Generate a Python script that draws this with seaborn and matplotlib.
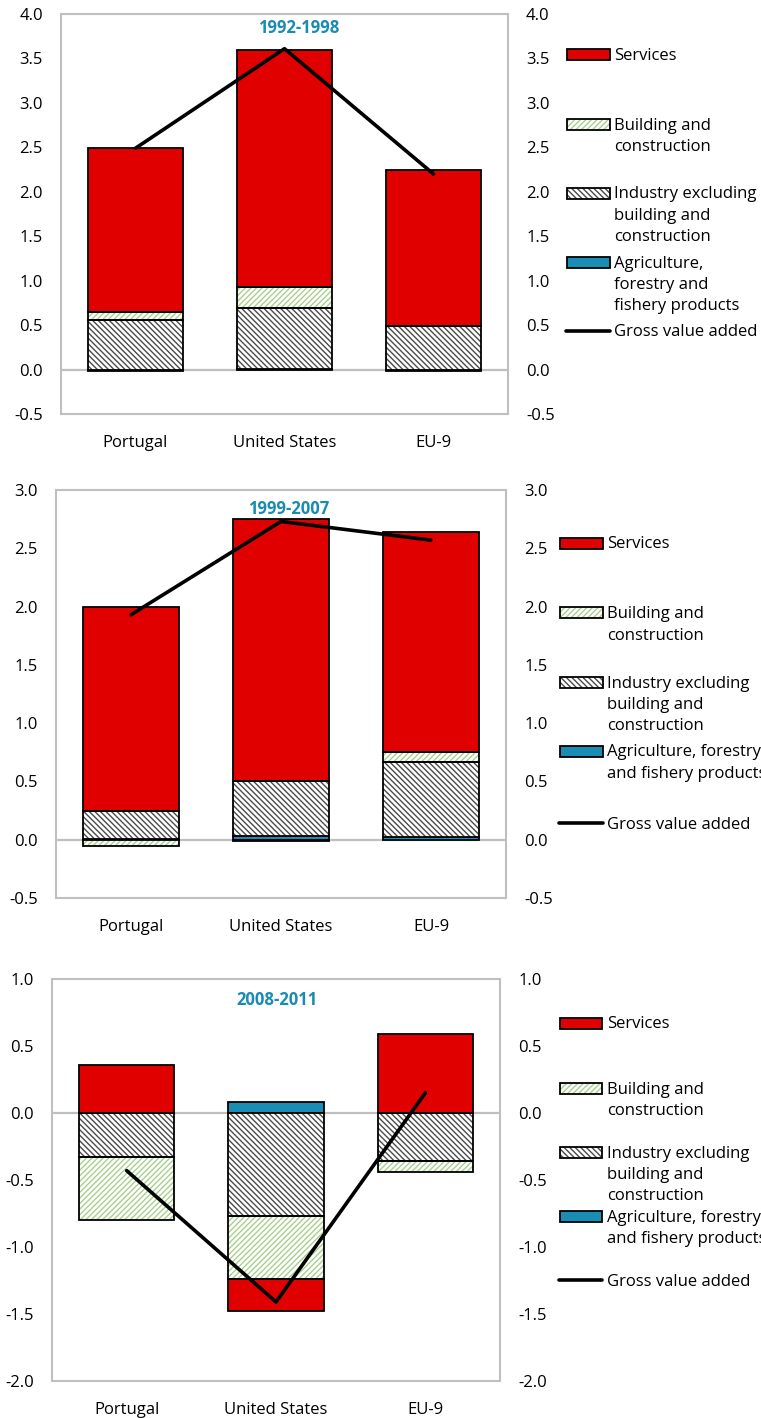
import matplotlib
matplotlib.use("Agg")
import numpy as np
import matplotlib.pyplot as plt
import seaborn as sns
from matplotlib.patches import Rectangle
from matplotlib.lines import Line2D

# ---- data -------------------------------------------------------------
countries = ["Portugal", "United States", "EU-9"]
periods = ["1992-1998", "1999-2007", "2008-2011"]

agri_9298 = [-0.02, 0.01, -0.02]
industry_9298 = [0.56, 0.68, 0.49]
building_9298 = [0.09, 0.24, 0.00]
services_9298 = [1.84, 2.67, 1.75]
gva_9298 = [2.49, 3.61, 2.20]

agri_9907 = [0.01, 0.03, 0.02]
industry_9907 = [0.24, 0.47, 0.65]
building_9907 = [-0.05, -0.01, 0.08]
services_9907 = [1.75, 2.25, 1.89]
gva_9907 = [1.93, 2.73, 2.57]

agri_0811 = [0.00, 0.08, 0.00]
industry_0811 = [-0.33, -0.77, -0.36]
building_0811 = [-0.47, -0.47, -0.08]
services_0811 = [0.36, -0.24, 0.59]
gva_0811 = [-0.43, -1.41, 0.15]

ylims = [(-0.5, 4.0), (-0.5, 3.0), (-2.0, 1.0)]

legend_labels = [
    ["Services", "Building and\nconstruction",
     "Industry excluding\nbuilding and\nconstruction",
     "Agriculture,\nforestry and\nfishery products", "Gross value added"],
    ["Services", "Building and\nconstruction",
     "Industry excluding\nbuilding and\nconstruction",
     "Agriculture, forestry\nand fishery products", "Gross value added"],
    ["Services", "Building and\nconstruction",
     "Industry excluding\nbuilding and\nconstruction",
     "Agriculture, forestry\nand fishery products", "Gross value added"],
]

panels = [
    (agri_9298, industry_9298, building_9298, services_9298, gva_9298),
    (agri_9907, industry_9907, building_9907, services_9907, gva_9907),
    (agri_0811, industry_0811, building_0811, services_0811, gva_0811),
]

# ---- style ------------------------------------------------------------
RED = "#e00000"
BLUE = "#1a8db5"
GREEN_HATCH = "#a8d08d"
GREY_HATCH = "#4a4a4a"
FRAME = "#bfbfbf"
TITLE_C = "#1a8bb3"
IND_HATCH = "\\" * 6
BLD_HATCH = "/" * 6

W, H, DPI = 761, 1418, 100
sns.set_theme(style="white")
plt.rcParams["font.family"] = ["Open Sans", "DejaVu Sans"]
plt.rcParams["hatch.linewidth"] = 1.0
FS = 12

fig = plt.figure(figsize=(W / DPI, H / DPI), dpi=DPI)


def fx(px):
    return px / W


def fy(py):
    return 1 - py / H


# axes boxes in pixels: left, top, right, bottom
boxes = [(61, 14, 508, 414), (56, 490, 506, 898), (52, 979, 500, 1381)]
title_pos = [(0.532, 0.965), (0.518, 0.953), (0.502, 0.948)]
# legend layout: handle left, handle right, text left, entry rows
legend_layout = [
    (567, 610, 614, [54, 124, 193, 262, 331]),
    (560, 603, 607, [543, 613, 682, 751, 823]),
    (560, 602, 607, [1023, 1088, 1152, 1216, 1280]),
]

# layers drawn bottom-up: (face, hatch, hatch colour)
layer_styles = [
    (BLUE, None, None),
    ("white", IND_HATCH, GREY_HATCH),
    ("white", BLD_HATCH, GREEN_HATCH),
    (RED, None, None),
]

x = np.arange(len(countries))
BW = 0.64

for i, (vals, box, ylim) in enumerate(zip(panels, boxes, ylims)):
    l, t, r, b = box
    ax = fig.add_axes([fx(l), fy(b), fx(r) - fx(l), fy(t) - fy(b)])
    ax.set_facecolor("white")

    pos_base = np.zeros(len(x))
    neg_base = np.zeros(len(x))
    for layer, (face, hatch, hcol) in zip(vals[:4], layer_styles):
        layer = np.asarray(layer, dtype=float)
        bottom = np.where(layer >= 0, pos_base, neg_base)
        if hatch is None:
            ax.bar(x, layer, bottom=bottom, width=BW, color=face,
                   edgecolor="black", linewidth=1.3, zorder=2)
        else:
            ax.bar(x, layer, bottom=bottom, width=BW, color=face,
                   edgecolor=hcol, hatch=hatch, linewidth=0, zorder=2)
            ax.bar(x, layer, bottom=bottom, width=BW, fill=False,
                   edgecolor="black", linewidth=1.3, zorder=2.1)
        pos_base = pos_base + np.where(layer >= 0, layer, 0)
        neg_base = neg_base + np.where(layer < 0, layer, 0)

    ax.axhline(0, color=FRAME, linewidth=1.6, zorder=1.5)
    sns.lineplot(x=x, y=vals[4], ax=ax, color="black", linewidth=2.6,
                 zorder=4, legend=False)

    ax.set_xlim(-0.5, 2.5)
    ax.set_ylim(*ylim)
    yt = np.arange(ylim[0], ylim[1] + 0.001, 0.5)
    ax.set_yticks(yt)
    ax.set_yticklabels([f"{v:.1f}" for v in yt])
    ax.set_xticks(x)
    ax.set_xticklabels(countries)
    ax.tick_params(axis="y", length=0, pad=13, labelsize=FS, colors="black")
    ax.tick_params(axis="x", length=0, pad=15, labelsize=FS, colors="black")
    ax.set_xlabel("")
    ax.set_ylabel("")
    for s in ax.spines.values():
        s.set_visible(True)
        s.set_color(FRAME)
        s.set_linewidth(1.5)

    ax2 = ax.twinx()
    ax2.set_ylim(*ylim)
    ax2.set_yticks(yt)
    ax2.set_yticklabels([f"{v:.1f}" for v in yt])
    ax2.tick_params(axis="y", length=0, pad=13, labelsize=FS, colors="black")
    for s in ax2.spines.values():
        s.set_visible(False)
    ax2.grid(False)

    ax.text(*title_pos[i], periods[i], transform=ax.transAxes, ha="center",
            va="center", fontsize=FS, fontweight="bold", color=TITLE_C)

    # legend
    hl, hr, tl, rows = legend_layout[i]
    specs = [(RED, None, None), ("white", BLD_HATCH, GREEN_HATCH),
             ("white", IND_HATCH, GREY_HATCH), (BLUE, None, None)]
    for (face, hatch, hcol), row, lab in zip(specs, rows[:4], legend_labels[i][:4]):
        hgt = 11
        y0 = fy(row + hgt / 2)
        if hatch is None:
            fig.add_artist(Rectangle((fx(hl), y0), fx(hr) - fx(hl), hgt / H,
                                     facecolor=face, edgecolor="black",
                                     linewidth=1.3, transform=fig.transFigure))
        else:
            fig.add_artist(Rectangle((fx(hl), y0), fx(hr) - fx(hl), hgt / H,
                                     facecolor=face, edgecolor=hcol, hatch=hatch,
                                     linewidth=0, transform=fig.transFigure))
            fig.add_artist(Rectangle((fx(hl), y0), fx(hr) - fx(hl), hgt / H,
                                     fill=False, edgecolor="black",
                                     linewidth=1.3, transform=fig.transFigure))
        fig.text(fx(tl), fy(row - 6.5), lab, ha="left", va="top", fontsize=FS,
                 linespacing=1.42, color="black")
    fig.add_artist(Line2D([fx(hl - 1), fx(hr)], [fy(rows[4]), fy(rows[4])],
                          color="black", linewidth=2.6, transform=fig.transFigure))
    fig.text(fx(tl), fy(rows[4] - 6.5), legend_labels[i][4], ha="left", va="top",
             fontsize=FS, linespacing=1.42, color="black")

fig.savefig("out.png", dpi=DPI, facecolor="white")
